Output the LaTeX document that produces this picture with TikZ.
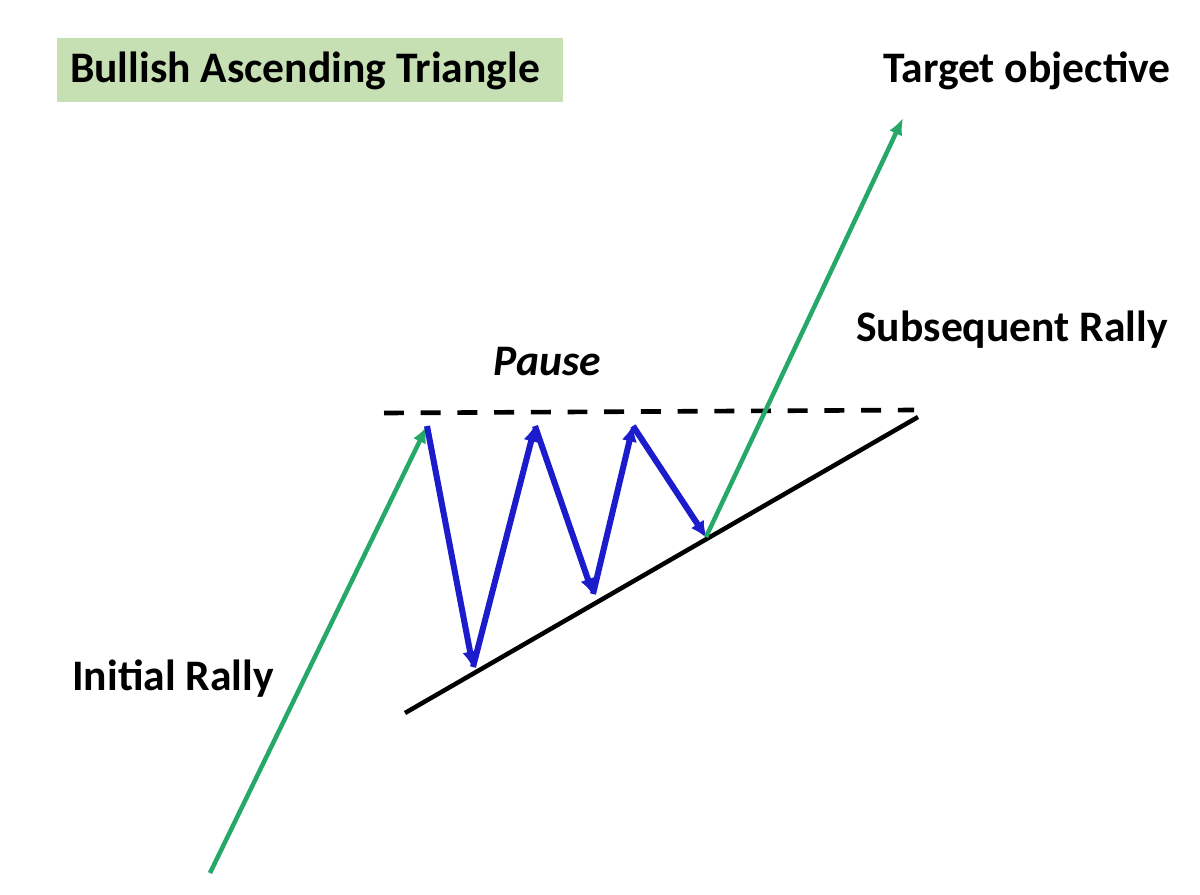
\documentclass[tikz,border=0pt]{standalone}
\usepackage{fontspec}
\setmainfont{Carlito}
\usetikzlibrary{arrows.meta}
\definecolor{rallygreen}{RGB}{38,168,104}
\definecolor{pauseblue}{RGB}{28,28,205}
\definecolor{titlefill}{RGB}{198,224,180}
\tikzset{
  lbl/.style={font=\fontsize{31}{36}\selectfont\bfseries, inner sep=0pt},
  rally/.style={draw=rallygreen, line width=3.2pt, -{Latex[length=12pt,width=10pt]}},
  swing/.style={draw=pauseblue, line width=4.3pt, -{Latex[length=12pt,width=11pt]}, shorten >=-1pt},
  resist/.style={draw=black, line width=3.3pt, dash pattern=on 14.2pt off 11.9pt},
  support/.style={draw=black, line width=3.2pt},
}
\begin{document}
\begin{tikzpicture}[x=0.025cm, y=-0.025cm]
\useasboundingbox (0,0) rectangle (1200,894);
% title
\fill[titlefill] (57,38) rectangle (563,102);
\node[lbl] (title) at (305,71) {Bullish Ascending Triangle};
\node[lbl] (target) at (1027,71) {Target objective};
\node[lbl] (subs) at (1012,330) {Subsequent Rally};
\node[lbl, font=\fontsize{31}{36}\selectfont\bfseries\itshape] (pause) at (547,362) {Pause};
\node[lbl] (init) at (173,679) {Initial Rally};
% points
\coordinate (start) at (210,873);
\coordinate (h1) at (427,426);
\coordinate (l1) at (473,667);
\coordinate (h2) at (535,426);
\coordinate (l2) at (593,594);
\coordinate (h3) at (633,426);
\coordinate (l3) at (706,537);
\coordinate (goal) at (903,118);
\coordinate (ra) at (384,413);
\coordinate (rb) at (914,410);
\coordinate (sa) at (405,713);
\coordinate (sb) at (918,417);
% lines
\draw[resist] (ra) -- (rb);
\draw[support] (sa) -- (sb);
\draw[rally] (start) -- (h1);
\draw[swing] (h1) -- (l1);
\draw[swing] (l1) -- (h2);
\draw[swing] (h2) -- (l2);
\draw[swing] (l2) -- (h3);
\draw[swing] (h3) -- (l3);
\draw[rally] (l3) -- (goal);
\end{tikzpicture}
\end{document}
